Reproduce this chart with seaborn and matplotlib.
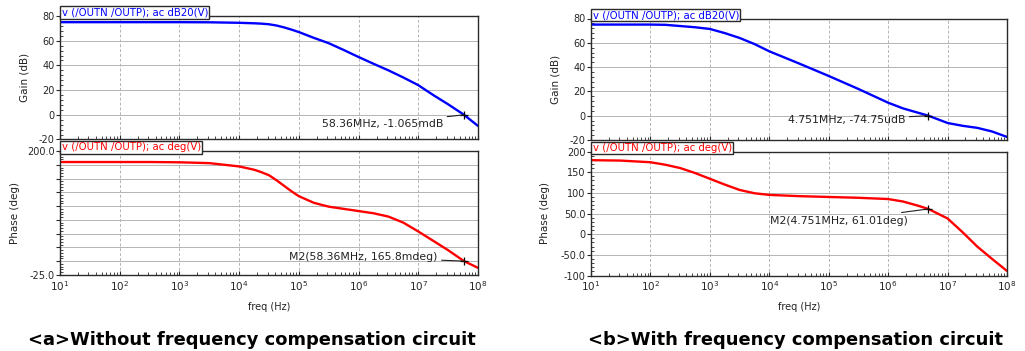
import numpy as np
import pandas as pd
import matplotlib
matplotlib.use("Agg")
import matplotlib.pyplot as plt
import seaborn as sns
from matplotlib.ticker import LogLocator, NullFormatter, AutoMinorLocator, FixedLocator, FixedFormatter

sns.set_style("white")
plt.rcParams['font.family'] = ['DejaVu Sans']
plt.rcParams['axes.unicode_minus'] = False

# ---------------- data: panel a (without compensation) ----------------
freq_a = [1e1, 3.16e1, 1e2, 3.16e2, 1e3, 3.16e3, 1e4, 1.78e4, 2.37e4, 3.16e4, 4.22e4, 5.62e4,
          7.5e4, 1e5, 1.78e5, 3.16e5, 5.62e5, 1e6, 1.78e6, 3.16e6, 5.62e6, 1e7, 1.78e7,
          3.16e7, 5.836e7, 1e8]
gain_a = [75, 75, 75, 75, 75, 74.9, 74.5, 74.1, 73.8, 73.3, 72.3, 70.8,
          69.0, 67, 62.3, 58, 52.5, 46.8, 41.3, 36, 30.2, 24, 16,
          8.5, 0, -9]
phase_a = [180, 180, 180, 180, 179.5, 178, 172, 166, 161.5, 156, 147, 137,
           127, 118, 106, 99, 95, 91, 87, 81, 70, 54, 37,
           20, 0.17, -12]

# ---------------- data: panel b (with compensation) ----------------
freq_b = [1e1, 3.16e1, 1e2, 1.78e2, 3.16e2, 5.62e2, 1e3, 1.78e3, 3.16e3, 5.62e3,
          1e4, 3.16e4, 1e5, 3.16e5, 1e6, 1.78e6, 3.16e6, 4.751e6, 1e7, 1.78e7,
          3.16e7, 5.62e7, 1e8]
gain_b = [75, 75, 75, 74.8, 73.8, 72.8, 71.4, 68, 64, 59,
          53, 43, 32.7, 22, 10.7, 6, 2.5, 0, -6, -8.3,
          -10, -13, -17.5]
phase_b = [179, 178, 174, 168, 160, 148, 134, 120, 107, 99,
           95, 92, 90, 88, 85, 79, 69, 61, 38, 5,
           -30, -60, -89]

# markers
mark_freq_a, mark_gain_a, mark_phase_a = 58.36e6, -1.065e-3, 165.8e-3
mark_freq_b, mark_gain_b, mark_phase_b = 4.751e6, -74.75e-6, 61.01
label_gain_a = "58.36MHz, -1.065mdB"
label_phase_a = "M2(58.36MHz, 165.8mdeg)"
label_gain_b = "4.751MHz, -74.75udB"
label_phase_b = "M2(4.751MHz, 61.01deg)"

trace_gain = "v (/OUTN /OUTP); ac dB20(V)"
trace_phase = "v (/OUTN /OUTP); ac deg(V)"

phase_a_ticks = [-25, 0, 25, 50, 75, 100, 125, 150, 175, 200]
phase_a_labels = ["-25.0", "", "", "", "", "", "", "", "", "200.0"]
phase_b_ticks = [-100, -50, 0, 50, 100, 150, 200]
phase_b_labels = ["-100", "-50.0", "0", "50.0", "100", "150", "200"]
gain_ticks = [-20, 0, 20, 40, 60, 80]
gain_labels = ["-20", "0", "20", "40", "60", "80"]

caption_a = "<a>Without frequency compensation circuit"
caption_b = "<b>With frequency compensation circuit"

W, H = 1025, 351
fig = plt.figure(figsize=(W / 100, H / 100), dpi=100)


def rect(l, r, t, b):
    return [l / W, 1 - b / H, (r - l) / W, (b - t) / H]


GRID = '#b4b4b4'
SPINE = '#2a2a2a'


def style_axes(ax, ylim, yticks, ylabels, ylabel, label_x, show_x):
    ax.set_xscale('log')
    ax.set_xlim(1e1, 1e8)
    ax.set_ylim(*ylim)
    ax.yaxis.set_major_locator(FixedLocator(yticks))
    ax.yaxis.set_major_formatter(FixedFormatter(ylabels))
    ax.yaxis.set_minor_locator(AutoMinorLocator(5))
    ax.xaxis.set_major_locator(FixedLocator([1e1, 1e2, 1e3, 1e4, 1e5, 1e6, 1e7, 1e8]))
    ax.xaxis.set_minor_locator(LogLocator(base=10, subs=np.arange(2, 10), numticks=12))
    ax.xaxis.set_minor_formatter(NullFormatter())
    for s in ax.spines.values():
        s.set_color(SPINE)
        s.set_linewidth(1.0)
        s.set_visible(True)
    ax.grid(False)
    ax.grid(True, axis='y', which='major', color=GRID, lw=0.7, ls='-')
    ax.grid(True, axis='x', which='major', color=GRID, lw=0.7, ls=(0, (3, 2)))
    ax.tick_params(axis='y', which='major', direction='out', length=3, width=0.8,
                   labelsize=7, pad=1, color=SPINE, left=True)
    ax.tick_params(axis='y', which='minor', direction='in', length=2, width=0.6,
                   color=SPINE, left=True)
    ax.tick_params(axis='x', which='major', direction='in', length=3, width=0.8,
                   labelsize=7.5, pad=3, color=SPINE, bottom=True)
    ax.tick_params(axis='x', which='minor', direction='in', length=2, width=0.6,
                   color=SPINE, bottom=True)
    ax.set_ylabel(ylabel, fontsize=7.5, color='#222222')
    ax.yaxis.set_label_coords(label_x, 0.5)
    if not show_x:
        ax.tick_params(axis='x', which='both', labelbottom=False)
        ax.set_xlabel("")
    else:
        ax.set_xlabel("freq (Hz)", fontsize=7, color='#222222')
        ax.xaxis.set_label_coords(0.5, -0.215)


def add_tab(ax, text, color, axes_h):
    ax.text(0.004, 1 + 3.5 / axes_h, text, transform=ax.transAxes, fontsize=7.3,
            color=color, ha='left', va='center', zorder=10, clip_on=False,
            bbox=dict(boxstyle='square,pad=0.12', fc='white', ec=SPINE, lw=1.0))


def draw_panel(l, r, gt, gb, pt, pb, freq, gain, phase, ptick, plab, plim,
               mf, mg, mp, lg, lp, off_g, off_p, glx, plx):
    axg = fig.add_axes(rect(l, r, gt, gb))
    axp = fig.add_axes(rect(l, r, pt, pb))
    dg = pd.DataFrame({'freq': freq, 'gain': gain})
    dp = pd.DataFrame({'freq': freq, 'phase': phase})
    sns.lineplot(data=dg, x='freq', y='gain', ax=axg, color='#0000ff', lw=1.7,
                 sort=False, estimator=None)
    sns.lineplot(data=dp, x='freq', y='phase', ax=axp, color='#ff0000', lw=1.7,
                 sort=False, estimator=None)
    style_axes(axg, (-20, 80), gain_ticks, gain_labels, "Gain (dB)", glx, False)
    style_axes(axp, plim, ptick, plab, "Phase (deg)", plx, True)
    add_tab(axg, trace_gain, '#0000ff', gb - gt)
    add_tab(axp, trace_phase, '#ff0000', pb - pt)
    for ax, mv, lab, off in ((axg, mg, lg, off_g), (axp, mp, lp, off_p)):
        ax.plot([mf], [mv], marker='+', color='black', ms=6, mew=0.9, zorder=6)
        ax.annotate(lab, xy=(mf, mv), xytext=off, textcoords='offset points',
                    fontsize=7.8, color='#222222', ha='right', va='center',
                    arrowprops=dict(arrowstyle='-', color='#222222', lw=0.8,
                                    shrinkA=0.5, shrinkB=0), zorder=7)
    return axg, axp


draw_panel(60, 478, 16, 139.5, 151, 275, freq_a, gain_a, phase_a,
           phase_a_ticks, phase_a_labels, (-25, 200),
           mark_freq_a, mark_gain_a, mark_phase_a, label_gain_a, label_phase_a,
           (-15, -6.5), (-19, 3), -0.074, -0.095)
draw_panel(591, 1007, 18.5, 140, 151.5, 275.5, freq_b, gain_b, phase_b,
           phase_b_ticks, phase_b_labels, (-100, 200),
           mark_freq_b, mark_gain_b, mark_phase_b, label_gain_b, label_phase_b,
           (-16.5, -3), (-15, -8.6), -0.0745, -0.099)

fig.text(252 / W, 1 - 340 / H, caption_a, ha='center', va='center',
         fontsize=12.9, fontweight='bold', color='black')
fig.text(795 / W, 1 - 340 / H, caption_b, ha='center', va='center',
         fontsize=12.9, fontweight='bold', color='black')

fig.savefig("out.png", dpi=100)
